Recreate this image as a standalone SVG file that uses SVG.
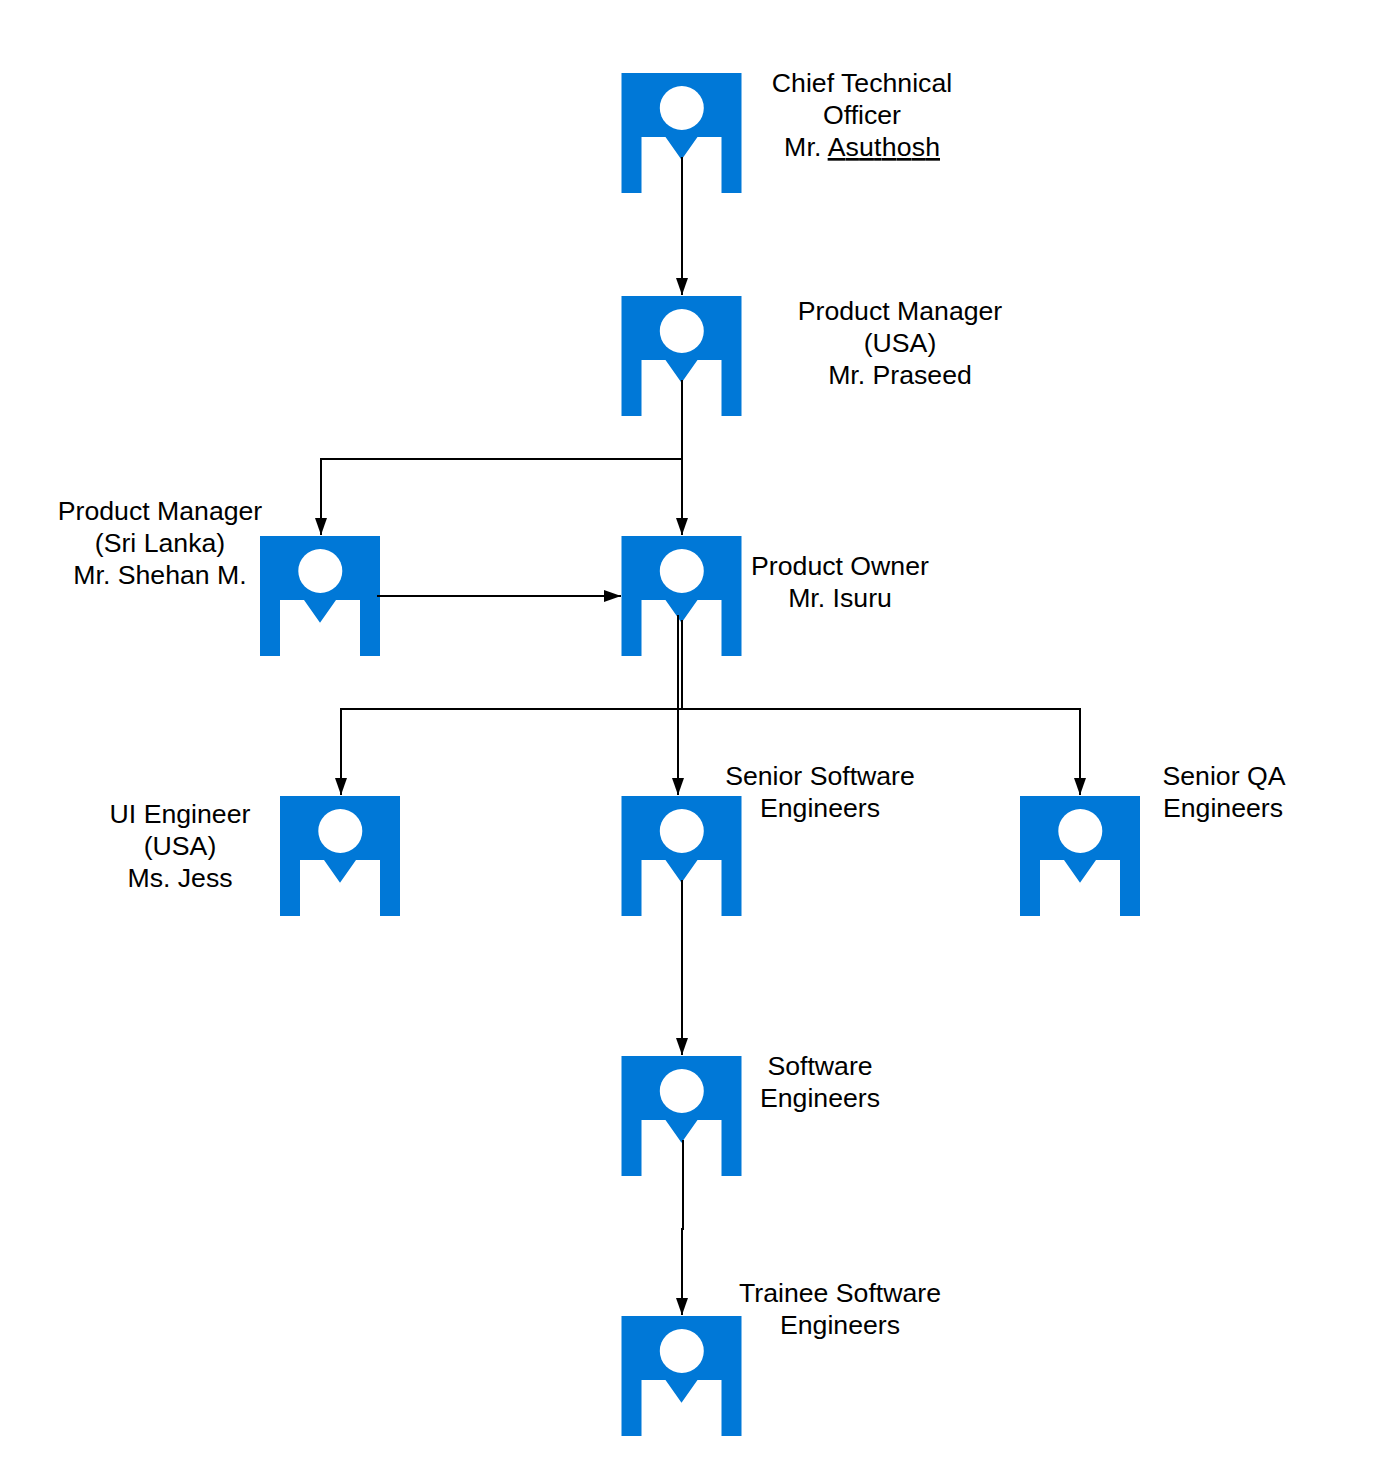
<svg xmlns="http://www.w3.org/2000/svg" width="1383" height="1476" viewBox="0 0 1383 1476">
<style>
.ic{fill:#0078d7}
.hd{fill:#fff}
text{font-family:"Liberation Sans",Arial,sans-serif;font-size:26.67px;fill:#000;text-anchor:middle}
.c{fill:none;stroke:#000;stroke-width:2}
</style>
<defs>
<marker id="a" markerUnits="userSpaceOnUse" markerWidth="18" markerHeight="14" refX="17" refY="7" orient="auto" viewBox="0 0 18 14"><path d="M0,1 V13 L17,7 Z" fill="#000"/></marker>
<g id="person">
<path class="ic" d="M0,0H120V120H100V64H76L60,86.700L44,64H20V120H0Z"/>
<circle class="hd" cx="60.300" cy="35" r="22"/>
</g>
</defs>
<rect width="1383" height="1476" fill="#fff"/>
<g id="n1"><use href="#person" x="621.500" y="73"/><text x="862" y="92">Chief Technical</text><text x="862" y="124">Officer</text><text x="862" y="156" textLength="156" lengthAdjust="spacing">Mr. <tspan text-decoration="underline">Asuthosh</tspan></text></g>
<g id="n2"><use href="#person" x="621.500" y="296"/><text x="900" y="320">Product Manager</text><text x="900" y="352">(USA)</text><text x="900" y="384">Mr. Praseed</text></g>
<g id="n3"><use href="#person" x="260" y="536"/><text x="160" y="520">Product Manager</text><text x="160" y="552">(Sri Lanka)</text><text x="160" y="584">Mr. Shehan M.</text></g>
<g id="n4"><use href="#person" x="621.500" y="536"/><text x="840" y="575">Product Owner</text><text x="840" y="607">Mr. Isuru</text></g>
<g id="n5"><use href="#person" x="280" y="796"/><text x="180" y="823">UI Engineer</text><text x="180" y="855">(USA)</text><text x="180" y="887">Ms. Jess</text></g>
<g id="n6"><use href="#person" x="621.500" y="796"/><text x="820" y="785">Senior Software</text><text x="820" y="817">Engineers</text></g>
<g id="n7"><use href="#person" x="1020" y="796"/><text x="1224" y="785">Senior QA</text><text x="1223" y="817">Engineers</text></g>
<g id="n8"><use href="#person" x="621.500" y="1056"/><text x="820" y="1075">Software</text><text x="820" y="1107">Engineers</text></g>
<g id="n9"><use href="#person" x="621.500" y="1316"/><text x="840" y="1302">Trainee Software</text><text x="840" y="1334">Engineers</text></g>
<g id="connectors">
<path class="c" d="M682,157V295" marker-end="url(#a)"/>
<path class="c" d="M682,380V535" marker-end="url(#a)"/>
<path class="c" d="M682,459H321V535" marker-end="url(#a)"/>
<path class="c" d="M377,596H621" marker-end="url(#a)"/>
<path class="c" d="M682,620V709H341V795" marker-end="url(#a)"/>
<path class="c" d="M682,709H1080V795" marker-end="url(#a)"/>
<path class="c" d="M678,615V795" marker-end="url(#a)"/>
<path class="c" d="M682,880V1055" marker-end="url(#a)"/>
<path class="c" d="M683,1140V1229H682V1315" marker-end="url(#a)"/>
</g>
</svg>
